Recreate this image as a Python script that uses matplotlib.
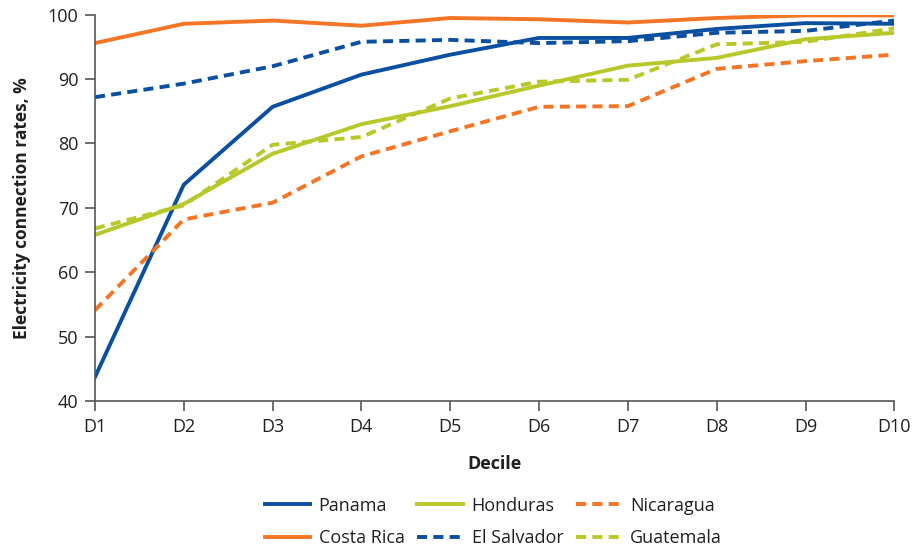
import numpy as np
import matplotlib
matplotlib.use("Agg")
import matplotlib.pyplot as plt

plt.rcParams['font.family'] = ['Open Sans', 'DejaVu Sans']

deciles = ["D1", "D2", "D3", "D4", "D5", "D6", "D7", "D8", "D9", "D10"]

panama      = [43.7, 73.6, 85.7, 90.7, 93.8, 96.4, 96.4, 97.8, 98.7, 98.6]
costa_rica  = [95.6, 98.6, 99.1, 98.3, 99.5, 99.3, 98.8, 99.5, 99.9, 99.9]
honduras    = [65.8, 70.6, 78.4, 83.0, 85.8, 89.0, 92.1, 93.3, 96.2, 97.2]
el_salvador = [87.2, 89.3, 92.0, 95.8, 96.1, 95.6, 95.9, 97.2, 97.5, 99.1]
nicaragua   = [54.1, 68.2, 70.8, 78.0, 81.9, 85.7, 85.8, 91.6, 92.8, 93.8]
guatemala   = [66.8, 70.4, 79.8, 81.0, 87.0, 89.6, 89.9, 95.4, 95.8, 97.9]

blue = "#0a4fa0"
orange = "#f47525"
green = "#b8c82a"
text_col = "#231f20"
dash = (0, (2.6, 1.6))

x = np.arange(len(deciles))

fig = plt.figure(figsize=(9.22, 5.47), dpi=100)
ax = fig.add_axes([0.103, 0.267, 0.867, 0.706])

lw = 2.8
# order so that the 3-column legend fills row by row like the original
series = [
    ("Panama", panama, blue, "-"),
    ("Costa Rica", costa_rica, orange, "-"),
    ("Honduras", honduras, green, "-"),
    ("El Salvador", el_salvador, blue, dash),
    ("Nicaragua", nicaragua, orange, dash),
    ("Guatemala", guatemala, green, dash),
]
draw_order = [1, 3, 0, 4, 2, 5]
lines = {}
for i in draw_order:
    name, vals, col, ls = series[i]
    ln, = ax.plot(x, vals, color=col, lw=lw, linestyle=ls, label=name)
    lines[i] = ln

ax.set_xlim(0, 9)
ax.set_ylim(40, 100)
ax.set_yticks(range(40, 101, 10))
ax.set_xticks(x)
ax.set_xticklabels(deciles)

for s in ["top", "right"]:
    ax.spines[s].set_visible(False)
for s in ["left", "bottom"]:
    ax.spines[s].set_color("#555555")
    ax.spines[s].set_linewidth(1.2)
ax.tick_params(axis="both", direction="out", length=7, width=1.2,
               color="#555555", labelsize=13, labelcolor=text_col, pad=5)

ax.set_xlabel("Decile", fontsize=13, fontweight="bold", color=text_col, labelpad=14)
ax.set_ylabel("Electricity connection rates, %", fontsize=12.5, fontweight="bold",
              color=text_col, labelpad=12)

handles = [lines[i] for i in range(6)]
labels = [series[i][0] for i in range(6)]
fig.legend(handles, labels, loc="lower center", bbox_to_anchor=(0.535, -0.03),
           ncol=3, frameon=False, fontsize=13, handlelength=2.5,
           handletextpad=0.5, columnspacing=0.7, labelspacing=0.8,
           labelcolor=text_col)

fig.savefig("out.png", dpi=100)
